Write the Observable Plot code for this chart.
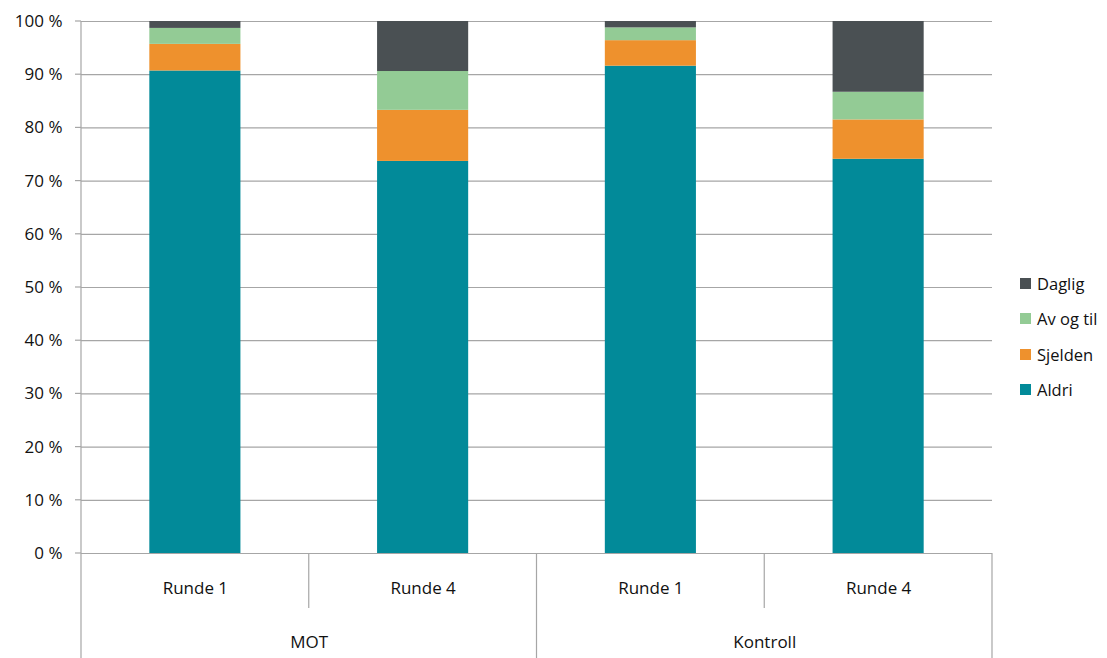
<!DOCTYPE html>
<html>
<head>
<meta charset="utf-8">
<script src="https://cdn.jsdelivr.net/npm/d3@7"></script>
<script src="https://cdn.jsdelivr.net/npm/@observablehq/plot@0.6"></script>
<style>
  html, body { margin: 0; padding: 0; background: #fff; }
  #wrap { position: relative; width: 1107px; height: 658px; font-family: "Open Sans", sans-serif; }
  #legend { position: absolute; left: 1020px; top: 266px; font-size: 16.5px; color: #111; }
  #legend .row { display: flex; align-items: center; height: 35.3px; }
  #legend .sw { width: 11px; height: 11px; margin-right: 6px; }
</style>
</head>
<body>
<div id="wrap"><div id="legend"></div></div>
<script>
const groups = ["MOT", "MOT", "Kontroll", "Kontroll"];
const rounds = ["Runde 1", "Runde 4", "Runde 1", "Runde 4"];
const series = ["Aldri", "Sjelden", "Av og til", "Daglig"];
const colors = ["#028a99", "#ee912d", "#93cb95", "#4a5053"];
const aldri   = [90.7, 73.7, 91.6, 74.1];
const sjelden = [5.0, 9.6, 4.8, 7.4];
const avogtil = [3.0, 7.3, 2.4, 5.2];
const daglig  = [1.3, 9.4, 1.2, 13.3];
const yTicks = [0, 10, 20, 30, 40, 50, 60, 70, 80, 90, 100];

const values = [aldri, sjelden, avogtil, daglig];
const data = [];
for (let i = 0; i < rounds.length; i++) {
  let base = 0;
  series.forEach((s, k) => {
    const v = values[k][i];
    data.push({idx: i, series: s, y1: base, y2: base + v});
    base += v;
  });
}
const groupNames = ["MOT", "Kontroll"];
const groupData = groupNames.map(g => {
  const ids = groups.map((x, i) => x === g ? i : -1).filter(i => i >= 0);
  return {name: g, start: Math.min(...ids), end: Math.max(...ids) + 1};
});
const roundData = rounds.map((r, i) => ({name: r, idx: i}));

const font = '"Open Sans", sans-serif';
const plot = Plot.plot({
  width: 1107,
  height: 658,
  marginLeft: 81,
  marginRight: 115,
  marginTop: 21,
  marginBottom: 105,
  style: {fontFamily: font, fontSize: "17px", color: "#111", background: "#fff"},
  x: {type: "linear", domain: [0, rounds.length], axis: null},
  y: {type: "linear", domain: [0, 100], axis: null},
  color: {domain: series, range: colors},
  marks: [
    Plot.gridY(yTicks, {stroke: "#a6a6a6", strokeOpacity: 1, strokeWidth: 1.2}),
    Plot.rectY(data, {x1: d => d.idx + 0.3, x2: d => d.idx + 0.7, y1: "y1", y2: "y2", fill: "series"}),
    Plot.text(yTicks, {x: () => 0, y: d => d, text: d => d + " %", textAnchor: "end", dx: -19, fill: "#111"}),
    Plot.text(roundData, {x: d => d.idx + 0.5, y: () => 0, text: "name", dy: 35, fill: "#111"}),
    Plot.text(groupData, {x: d => (d.start + d.end) / 2, y: () => 0, text: "name", dy: 89, fill: "#111"})
  ]
});

// axis lines, tick marks and category separators drawn through the plot's scales
const sx = plot.scale("x"), sy = plot.scale("y");
const svg = d3.select(plot);
const g = svg.append("g").attr("stroke", "#a6a6a6").attr("stroke-width", 1.2);
const y0 = sy.apply(0), yTop = sy.apply(100);
const x0 = sx.apply(0);
g.append("line").attr("x1", x0).attr("x2", x0).attr("y1", yTop).attr("y2", 658);
yTicks.forEach(t => g.append("line").attr("x1", x0 - 6).attr("x2", x0).attr("y1", sy.apply(t)).attr("y2", sy.apply(t)));
for (let i = 1; i < rounds.length; i++) {
  const outer = groups[i] !== groups[i - 1];
  g.append("line").attr("x1", sx.apply(i)).attr("x2", sx.apply(i))
    .attr("y1", y0).attr("y2", outer ? 658 : y0 + 55);
}
g.append("line").attr("x1", sx.apply(rounds.length)).attr("x2", sx.apply(rounds.length)).attr("y1", y0).attr("y2", 658);

document.getElementById("wrap").prepend(plot);
plot.style.position = "absolute"; plot.style.left = "0"; plot.style.top = "0";

const legend = d3.select("#legend");
[...series].reverse().forEach(s => {
  const row = legend.append("div").attr("class", "row");
  row.append("div").attr("class", "sw").style("background", colors[series.indexOf(s)]);
  row.append("span").text(s);
});
</script>
</body>
</html>
